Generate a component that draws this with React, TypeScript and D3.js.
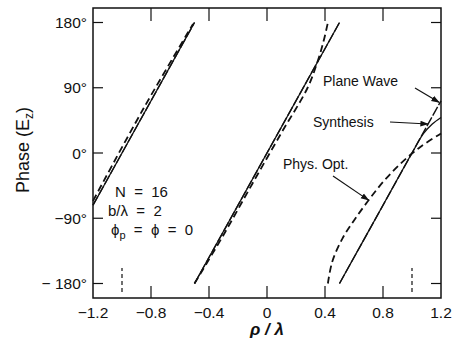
import { useEffect, useRef } from 'react';
import * as d3 from 'd3';

type Pt = [number, number];

// each series is split into branches where the phase wraps at ±180°
const planeWave: Pt[][] = [
  [[-1.2, -72], [-0.5, 180]],
  [[-0.5, -180], [0.5, 180]],
  [[0.5, -180], [1.2, 72]],
];
const synthesis: Pt[][] = [
  [[-1.2, -72], [-0.5, 180]],
  [[-0.5, -180], [0.5, 180]],
  [[0.5, -180], [0.8, -72], [1.0, 0], [1.08, 27], [1.14, 40], [1.2, 49]],
];
const physOpt: Pt[][] = [
  [[-1.2, -66], [-0.85, 62], [-0.51, 178]],
  [[-0.5, -180], [-0.3, -113], [-0.1, -42], [0.1, 28], [0.28, 90], [0.35, 127], [0.39, 154], [0.42, 180]],
  [[0.42, -180], [0.45, -150], [0.52, -118], [0.6, -93], [0.69, -68], [0.8, -40], [0.92, -15], [1.055, 8], [1.2, 27]],
];

const xTicks = [-1.2, -0.8, -0.4, 0, 0.4, 0.8, 1.2];
const yTicks = [-180, -90, 0, 90, 180];
const markerTicks = [-1.0, 1.0];

const fmtX = (d: number) => (d < 0 ? `\u2212${Math.abs(d).toFixed(1)}` : d === 0 ? '0' : d.toFixed(1));
const fmtY = (d: number) => (d < 0 ? `\u2212${d === -180 ? ' ' : ''}${-d}°` : `${d}°`);

export default function App() {
  const svgRef = useRef<SVGSVGElement>(null);

  useEffect(() => {
    if (!svgRef.current) return;
    const svg = d3.select(svgRef.current);
    svg.selectAll('*').remove();

    const x = d3.scaleLinear().domain([-1.2, 1.2]).range([93, 441]);
    const y = d3.scaleLinear().domain([-200, 200]).range([298, 8]);
    const font = 'Liberation Sans, Arial, sans-serif';
    const ink = '#111';

    const defs = svg.append('defs');
    defs.append('marker')
      .attr('id', 'arr')
      .attr('viewBox', '0 0 10 10')
      .attr('refX', 9).attr('refY', 5)
      .attr('markerWidth', 7).attr('markerHeight', 7)
      .attr('orient', 'auto')
      .append('path').attr('d', 'M0,1.5 L10,5 L0,8.5 Z').attr('fill', ink);

    // frame
    svg.append('rect')
      .attr('x', x(-1.2)).attr('y', y(200))
      .attr('width', x(1.2) - x(-1.2)).attr('height', y(-200) - y(200))
      .attr('fill', 'none').attr('stroke', ink).attr('stroke-width', 1.5);

    // ticks (inward)
    const g = svg.append('g').attr('stroke', ink).attr('stroke-width', 1.2);
    xTicks.slice(1, -1).forEach(t => {
      g.append('line').attr('x1', x(t)).attr('x2', x(t)).attr('y1', y(-200)).attr('y2', y(-200) - 12);
      g.append('line').attr('x1', x(t)).attr('x2', x(t)).attr('y1', y(200)).attr('y2', y(200) + 13);
    });
    yTicks.forEach(t => {
      g.append('line').attr('x1', x(-1.2)).attr('x2', x(-1.2) + 10).attr('y1', y(t)).attr('y2', y(t));
      g.append('line').attr('x1', x(1.2)).attr('x2', x(1.2) - 10).attr('y1', y(t)).attr('y2', y(t));
    });
    markerTicks.forEach(t => {
      g.append('line').attr('x1', x(t)).attr('x2', x(t)).attr('y1', y(-200) - 6).attr('y2', y(-200) - 30)
        .attr('stroke-dasharray', '4,3');
    });

    // tick labels
    svg.append('g').selectAll('text').data(xTicks).enter().append('text')
      .attr('x', d => x(d)).attr('y', 318)
      .attr('text-anchor', 'middle').attr('font-family', font).attr('font-size', 15.5).attr('fill', ink)
      .text(d => fmtX(d));
    svg.append('g').selectAll('text').data(yTicks).enter().append('text')
      .attr('x', 87).attr('y', d => y(d) + 5.5)
      .attr('text-anchor', 'end').attr('font-family', font).attr('font-size', 15.5).attr('fill', ink)
      .text(d => fmtY(d));

    // axis titles
    svg.append('text')
      .attr('x', 267).attr('y', 335)
      .attr('text-anchor', 'middle').attr('font-family', font).attr('font-size', 17)
      .attr('font-weight', 'bold').attr('font-style', 'italic').attr('fill', ink)
      .text('ρ / λ');
    const yt = svg.append('text')
      .attr('transform', 'translate(29,150) rotate(-90)')
      .attr('text-anchor', 'middle').attr('font-family', font).attr('font-size', 18).attr('fill', ink);
    yt.append('tspan').text('Phase (E');
    yt.append('tspan').attr('font-size', 12).attr('dy', 4).text('z');
    yt.append('tspan').attr('dy', -4).text(')');

    // curves
    const line = d3.line<Pt>().x(d => x(d[0])).y(d => y(d[1])).curve(d3.curveCatmullRom.alpha(0.5));
    const drawSeries = (branches: Pt[][], dash: string | null, w: number) => {
      branches.forEach(b => {
        const p = svg.append('path').attr('d', line(b)).attr('fill', 'none')
          .attr('stroke', ink).attr('stroke-width', w);
        if (dash) p.attr('stroke-dasharray', dash);
      });
    };
    drawSeries(physOpt, '7,4', 1.8);
    drawSeries(planeWave, '10,2', 1.4);
    drawSeries(synthesis, null, 1.3);

    // labels with arrows
    const label = (text: string, lx: number, ly: number) =>
      svg.append('text').attr('x', lx).attr('y', ly).attr('font-family', font)
        .attr('font-size', 14).attr('fill', ink).text(text);
    const arrow = (x1: number, y1: number, x2: number, y2: number) =>
      svg.append('line').attr('x1', x1).attr('y1', y1).attr('x2', x2).attr('y2', y2)
        .attr('stroke', ink).attr('stroke-width', 1.2).attr('marker-end', 'url(#arr)');

    label('Plane Wave', 323, 86);
    arrow(415, 88, x(1.2) - 2, y(70));
    label('Synthesis', 313, 127);
    arrow(390, 122, x(1.11), y(40));
    label('Phys. Opt.', 283, 169);
    arrow(333, 176, x(0.7), y(-65));

    // parameters
    const params = svg.append('g').attr('font-family', font).attr('font-size', 15).attr('fill', ink);
    params.append('text').attr('x', 115).attr('y', 197).attr('xml:space', 'preserve').text('N  =  16');
    params.append('text').attr('x', 108).attr('y', 216).attr('xml:space', 'preserve').text('b/λ  =  2');
    const phi = params.append('text').attr('x', 111).attr('y', 235).attr('xml:space', 'preserve');
    phi.append('tspan').text('ϕ');
    phi.append('tspan').attr('font-size', 11).attr('dy', 4).text('p');
    phi.append('tspan').attr('dy', -4).text('  =  ϕ  =  0');
  }, []);

  return (
    <svg
      ref={svgRef}
      width={453}
      height={352}
      style={{ position: 'absolute', left: 0, top: 0, background: '#fff' }}
    />
  );
}
